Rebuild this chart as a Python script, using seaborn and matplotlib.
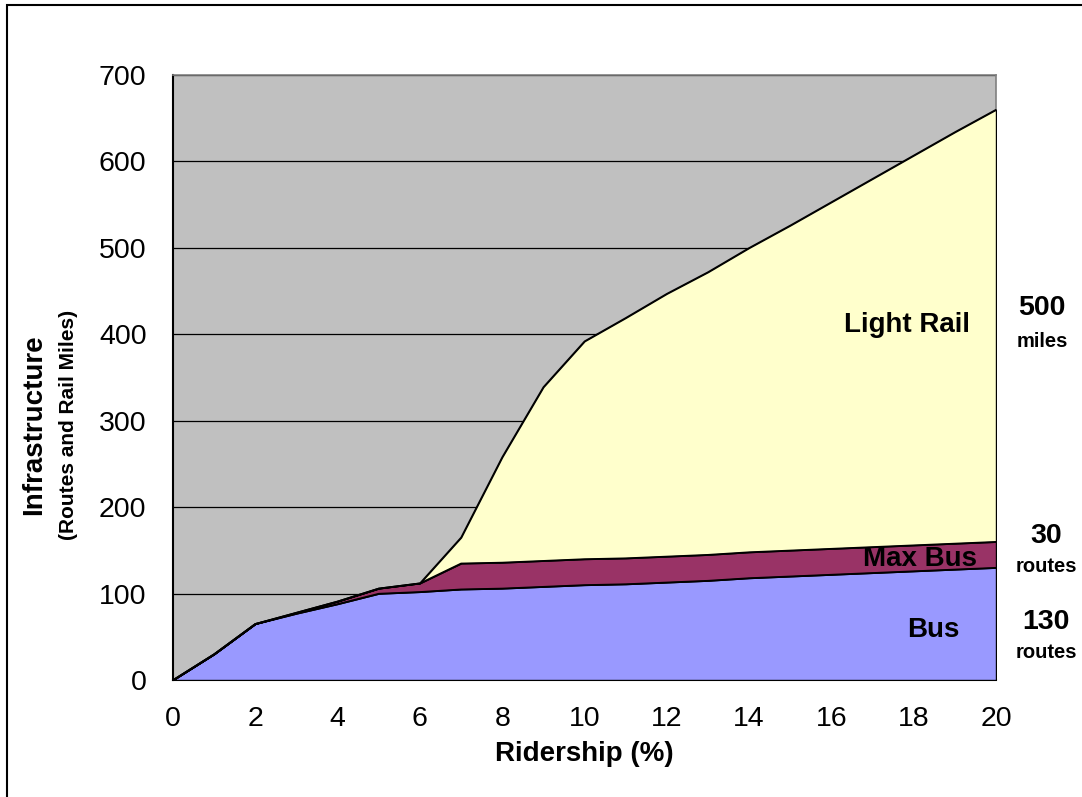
import numpy as np
import pandas as pd
import matplotlib
matplotlib.use("Agg")
import matplotlib.pyplot as plt
import seaborn as sns
from matplotlib.patches import Rectangle

# Ridership share (%) and infrastructure by mode
ridership = list(range(0, 21))
bus = [0, 30, 65, 77, 88, 100, 102, 105, 106, 108, 110, 111, 113, 115, 118, 120, 122, 124, 126, 128, 130]
max_bus = [0, 0, 0, 1, 3, 6, 10, 30, 30, 30, 30, 30, 30, 30, 30, 30, 30, 30, 30, 30, 30]
light_rail = [0, 0, 0, 0, 0, 0, 0, 30, 122, 201, 252, 278, 304, 327, 352, 376, 401, 426, 451, 476, 500]

series_names = ["Bus", "Max Bus", "Light Rail"]
series_colors = ["#9999FF", "#993366", "#FFFFCC"]

df = pd.DataFrame({"Ridership": ridership, "Bus": bus, "Max Bus": max_bus, "Light Rail": light_rail})

sns.set_style("white")
plt.rcParams["font.family"] = ["Liberation Sans", "DejaVu Sans"]
plt.rcParams["text.color"] = "black"
plt.rcParams["axes.labelcolor"] = "black"
plt.rcParams["xtick.labelcolor"] = "black"
plt.rcParams["ytick.labelcolor"] = "black"

fig = plt.figure(figsize=(10.82, 7.97), dpi=100)
ax = fig.add_axes([173 / 1082, 1 - 680 / 797, (996 - 173) / 1082, (680 - 75) / 797])
ax.set_facecolor("#C0C0C0")

# Stacked areas
lower = np.zeros(len(df))
for name, color in zip(series_names, series_colors):
    upper = lower + df[name].to_numpy()
    ax.fill_between(df["Ridership"], lower, upper, facecolor=color,
                    edgecolor="black", linewidth=1.0, zorder=3)
    lower = upper

# Outline of the cumulative layers
cum = df[series_names].cumsum(axis=1)
for name in series_names:
    sns.lineplot(x=df["Ridership"], y=cum[name], ax=ax, color="black",
                 linewidth=1.0, zorder=4, legend=False)

ax.set_xlim(0, 20)
ax.set_ylim(0, 700)
ax.set_xticks(range(0, 21, 2))
ax.set_xticks(range(0, 21), minor=True)
ax.set_yticks(range(0, 701, 100))
ax.yaxis.grid(True, color="black", linewidth=0.9, zorder=1)
ax.set_axisbelow(True)

ax.tick_params(axis="both", which="both", direction="out", length=9,
               width=1.2, color="#505050", labelsize=20.5, pad=10,
               labelcolor="black")
ax.tick_params(axis="x", which="minor", length=9)

for side in ["left", "bottom"]:
    ax.spines[side].set_color("black")
    ax.spines[side].set_linewidth(1.5)
for side in ["top", "right"]:
    ax.spines[side].set_color("#808080")
    ax.spines[side].set_linewidth(1.2)

ax.set_xlabel("Ridership (%)", fontsize=20, fontweight="bold", labelpad=6,
              color="black")
ax.set_ylabel("")
fig.text(34 / 1082, 1 - 425 / 797, "Infrastructure", rotation=90, ha="center",
         va="center", fontsize=20, fontweight="bold")
fig.text(69 / 1082, 1 - 425 / 797, "(Routes and Rail Miles)", rotation=90,
         ha="center", va="center", fontsize=15, fontweight="bold")

# Series labels inside the areas
ax.text(17.84, 411, "Light Rail", ha="center", va="center", fontsize=20,
        fontweight="bold", zorder=5)
ax.text(18.15, 140, "Max Bus", ha="center", va="center", fontsize=20,
        fontweight="bold", zorder=5)
ax.text(18.47, 58, "Bus", ha="center", va="center", fontsize=20,
        fontweight="bold", zorder=5)

# Totals at 20% ridership, beside the plot
side_notes = [(1042, 308, "500", 20.5), (1042, 341, "miles", 14.5),
              (1046, 536, "30", 20.5), (1046, 567, "routes", 14.5),
              (1046, 622, "130", 20.5), (1046, 653, "routes", 14.5)]
for px, py, txt, size in side_notes:
    fig.text(px / 1082, 1 - py / 797, txt, ha="center", va="center",
             fontsize=size, fontweight="bold")

# Frame around the figure
fig.patches.append(Rectangle((7 / 1082, -0.05), 1.2, 1 - 5 / 797 + 0.05,
                             transform=fig.transFigure, fill=False,
                             edgecolor="black", linewidth=1.5, clip_on=False))

fig.savefig("out.png", dpi=100)
